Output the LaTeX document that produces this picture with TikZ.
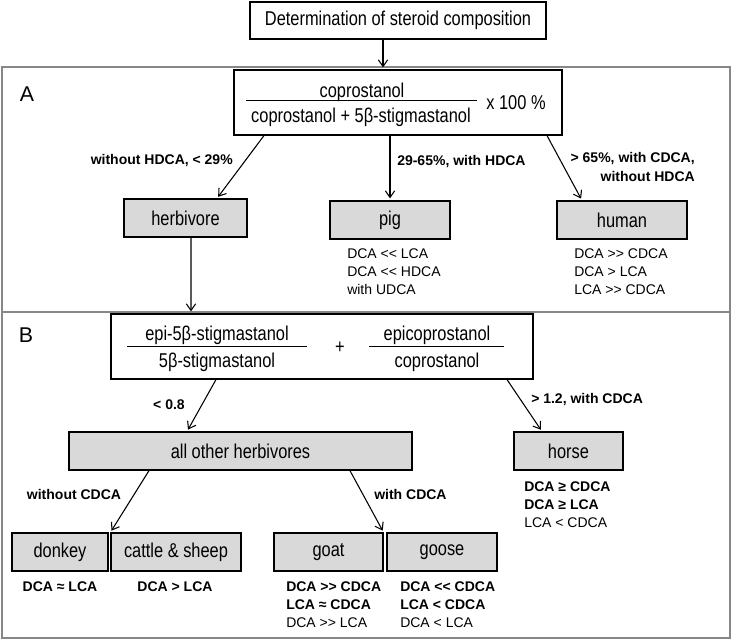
\documentclass[tikz,border=0pt]{standalone}
\usepackage{fontspec}
\setmainfont{Liberation Sans}[Ligatures=TeXOff]
\newfontfamily\narrowfont{Liberation Sans}[FakeStretch=0.82, Ligatures=TeXOff]
\usetikzlibrary{arrows.meta}
\definecolor{boxgray}{RGB}{217,217,217}
\definecolor{framegray}{RGB}{135,135,135}
\tikzset{>={Straight Barb[length=5pt,width=7pt]}}
\tikzset{
  plainbox/.style={draw, line width=0.9pt, inner sep=0pt, font=\narrowfont\fontsize{15}{17}\selectfont},
  animalbox/.style={plainbox, fill=boxgray, minimum height=28.5pt},
  cond/.style={font=\bfseries\fontsize{10.5}{13.5}\selectfont, inner sep=0pt},
  result/.style={font=\fontsize{10.5}{13.5}\selectfont, align=left, inner sep=0pt},
  ratio/.style={font=\narrowfont\fontsize{15}{17}\selectfont, inner sep=0pt},
  panel/.style={draw=framegray, line width=1.1pt},
  link/.style={->, line width=0.8pt, shorten >=1.5pt},
}

\begin{document}
\begin{tikzpicture}[x=0.75pt,y=-0.75pt]
\useasboundingbox (0,0) rectangle (733,641);
% panels
\draw[panel] (2,67) rectangle (730,312);
\draw[panel] (2,312) rectangle (730,638);
\node[font=\fontsize{16}{18}\selectfont] (labA) at (27,94) {A};
\node[font=\fontsize{16}{18}\selectfont] (labB) at (26,335) {B};
% start
\node[plainbox, minimum width=222pt, minimum height=27.75pt] (start) at (398,20.5)
  {Determination of steroid composition};
% panel A: coprostanol ratio
\node[plainbox, minimum width=246pt, minimum height=48.75pt] (fA) at (398,102.5) {};
\node[ratio] (numA) at (362,92) {coprostanol};
\node[ratio] (denA) at (361,117) {coprostanol + 5β-stigmastanol};
\draw[line width=0.75pt] (246,101) -- (477,101);
\node[ratio] (pctA) at (516,103) {x 100 \%};
\draw[link] ([xshift=-11.25pt]start.south) -- ([xshift=-11.25pt]fA.north);
% panel A: results
\node[animalbox, minimum width=92.25pt] (herb) at (185.5,218) {herbivore};
\node[animalbox, minimum width=90pt] (pig) at (390,220) {pig};
\node[animalbox, minimum width=97.5pt] (human) at (622,220) {human};
\draw[link] ([xshift=-100.5pt]fA.south) -- ([xshift=23.6pt]herb.north);
\draw[link] ([xshift=-6pt]fA.south) -- (pig.north);
\draw[link] ([xshift=111.75pt]fA.south) -- ([xshift=-30pt]human.north);
\node[cond, anchor=east] (c1) at (233,161) {without HDCA, < 29\%};
\node[cond, anchor=west] (c2) at (397,162) {29-65\%, with HDCA};
\node[cond, anchor=east, align=right] (c3) at (695,167) {> 65\%, with CDCA,\\without HDCA};
\node[result, anchor=west] (rpig) at (347,272) {DCA << LCA\\DCA << HDCA\\with UDCA};
\node[result, anchor=west] (rhuman) at (574,272) {DCA >> CDCA\\DCA > LCA\\LCA >> CDCA};
% panel B: epimer ratios
\node[plainbox, minimum width=316.5pt, minimum height=48.75pt] (fB) at (322,346.5) {};
\node[ratio] (numB1) at (217,335) {epi-5β-stigmastanol};
\node[ratio] (denB1) at (217,362) {5β-stigmastanol};
\draw[line width=0.75pt] (127,347) -- (307,347);
\node[ratio] (plus) at (340,348) {+};
\node[ratio] (numB2) at (437,335) {epicoprostanol};
\node[ratio] (denB2) at (437,362) {coprostanol};
\draw[line width=0.75pt] (369,347) -- (504,347);
\draw[link] ([xshift=4.1pt]herb.south) -- ([xshift=-98.25pt]fB.north);
% panel B: results
\node[animalbox, minimum width=257.25pt] (other) at (240.5,451) {all other herbivores};
\node[animalbox, minimum width=81.75pt] (horse) at (568.5,451) {horse};
\draw[link] ([xshift=-79.5pt]fB.south) -- ([xshift=-40.1pt]other.north);
\draw[link] ([xshift=138.75pt]fB.south) -- ([xshift=-19.9pt]horse.north);
\node[cond, anchor=east] (c4) at (185,405) {< 0.8};
\node[cond, anchor=west] (c5) at (531,400) {> 1.2, with CDCA};
\node[result, anchor=west] (rhorse) at (524,505)
  {{\bfseries DCA ≥ CDCA}\\{\bfseries DCA ≥ LCA}\\LCA < CDCA};
\node[animalbox, minimum width=72pt] (donkey) at (60,552) {donkey};
\node[animalbox, minimum width=97.5pt] (cattle) at (176,552) {cattle \& sheep};
\node[animalbox, minimum width=81.75pt] (goat) at (328.5,552) {goat};
\node[animalbox, minimum width=82.5pt] (goose) at (442,552) {goose};
\draw[link] ([xshift=-68.6pt]other.south) -- (cattle.north west);
\draw[link] ([xshift=82.1pt]other.south) -- (goat.north east);
\node[cond] (c6) at (74,494) {without CDCA};
\node[cond, anchor=west] (c7) at (374,494) {with CDCA};
\node[cond] (rdonkey) at (60,587) {DCA ≈ LCA};
\node[cond] (rcattle) at (175,587) {DCA > LCA};
\node[result, anchor=west] (rgoat) at (286,605)
  {{\bfseries DCA >> CDCA}\\{\bfseries LCA ≈ CDCA}\\DCA >> LCA};
\node[result, anchor=west] (rgoose) at (400,605)
  {{\bfseries DCA << CDCA}\\{\bfseries LCA < CDCA}\\DCA < LCA};
\end{tikzpicture}
\end{document}
